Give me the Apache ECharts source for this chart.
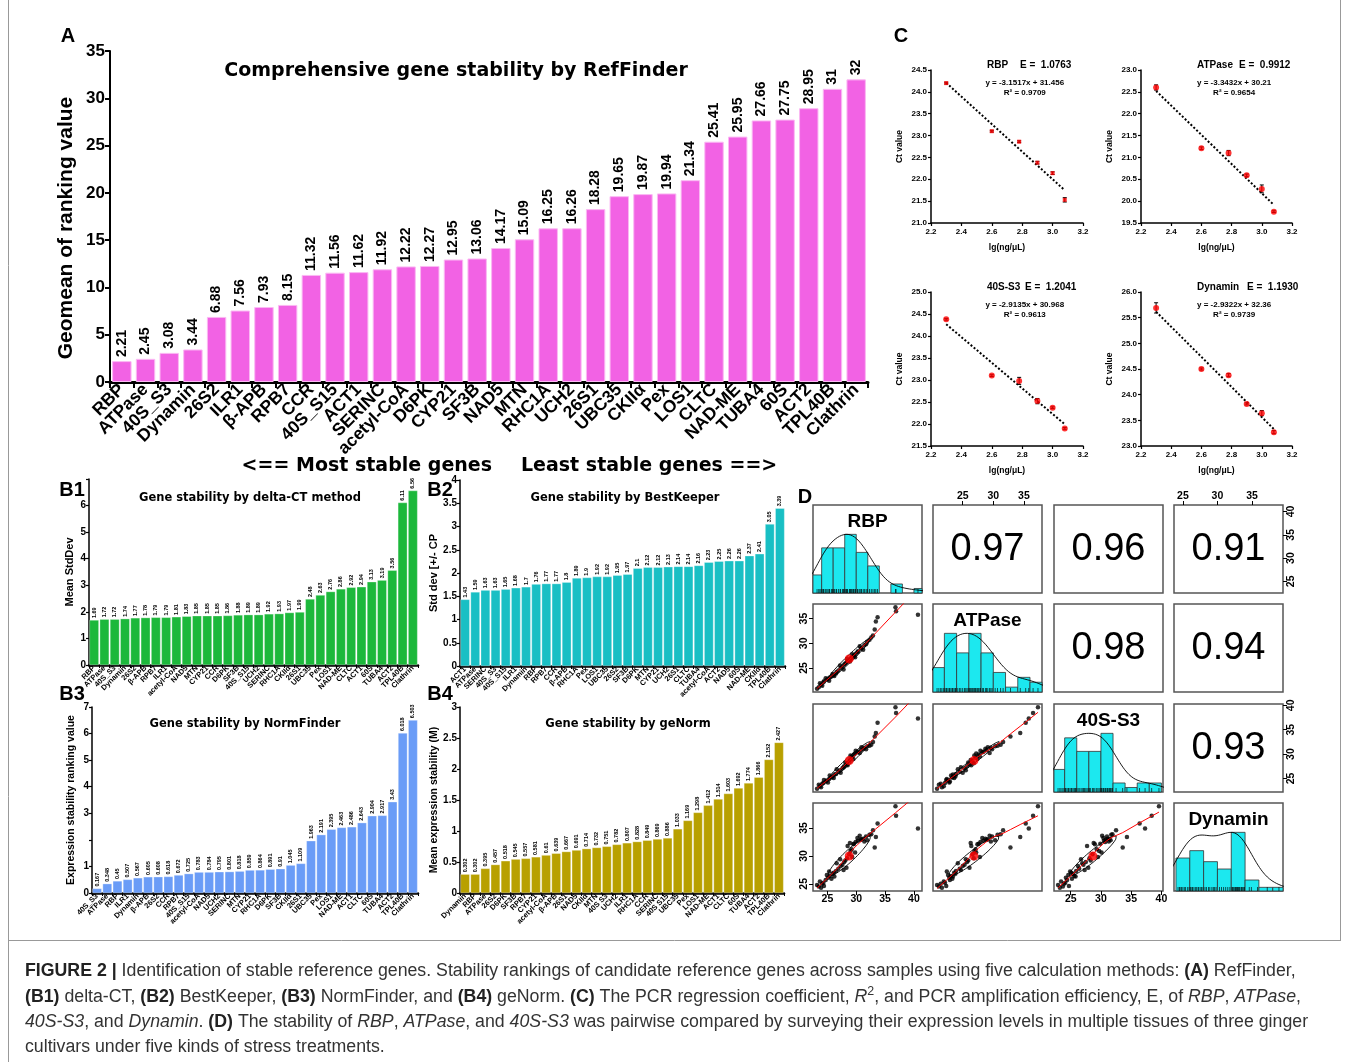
<!DOCTYPE html>
<html><head><meta charset="utf-8">
<script src="https://cdn.jsdelivr.net/npm/echarts@6/dist/echarts.min.js"></script>
<style>html,body{margin:0;padding:0;background:#fff}#c{width:1346px;height:1062px}</style>
</head><body><div id="c"></div><script>
// ---------------- DATA ----------------
const genesA = ['RBP','ATPase','40S_S3','Dynamin','26S2','ILR1','β-APB','RPB7','CCR','40S_S15','ACT1','SERINC','acetyl-CoA','D6PK','CYP21','SF3B','NAD5','MTN','RHC1A','UCH2','26S1','UBC35','CKIIα','Pex','LOS1','CLTC','NAD-ME','TUBA4','60S','ACT2','TPL40B','Clathrin'];
const valuesA = [2.21,2.45,3.08,3.44,6.88,7.56,7.93,8.15,11.32,11.56,11.62,11.92,12.22,12.27,12.95,13.06,14.17,15.09,16.25,16.26,18.28,19.65,19.87,19.94,21.34,25.41,25.95,27.66,27.75,28.95,31,32];

const genesB1 = ['RBP','ATPase','40S_S3','Dynamin','26S2','β-APB','RPB7','ILR1','acetyl-CoA','NAD5','MTN','CYP21','CCR','D6PK','SF3B','40S_S15','UCH2','SERINC','RHC1A','CKIIα','26S1','UBC35','Pex','LOS1','NAD-ME','CLTC','ACT1','60S','TUBA4','ACT2','TPL40B','Clathrin'];
const valuesB1 = [1.69,1.72,1.72,1.74,1.77,1.78,1.79,1.79,1.81,1.83,1.85,1.85,1.85,1.86,1.88,1.89,1.89,1.92,1.93,1.97,1.99,2.48,2.63,2.76,2.86,2.92,2.94,3.13,3.19,3.56,6.11,6.56];

const genesB2 = ['ACT1','ATPase','SERINC','40S_S3','40S_S15','ILR1','Dynamin','RBP','RPB7','CCR','β-APB','RHC1A','Pex','LOS1','UBC35','26S2','SF3B','D6PK','MTN','CYP21','UCH2','26S1','CLTC','TUBA4','acetyl-CoA','ACT2','NAD5','60S','NAD-ME','CKIIα','TPL40B','Clathrin'];
const valuesB2 = [1.43,1.59,1.63,1.63,1.65,1.68,1.7,1.76,1.77,1.77,1.8,1.89,1.9,1.92,1.92,1.95,1.97,2.1,2.12,2.12,2.13,2.14,2.14,2.16,2.23,2.25,2.26,2.26,2.37,2.41,3.05,3.39];

const genesB3 = ['40S_S3','ATPase','RBP','ILR1','Dynamin','β-APB','26S2','CCR','RPB7','40S_S15','acetyl-CoA','NAD5','UCH2','SERINC','MTN','CYP21','RHC1A','D6PK','SF3B','CKIIα','26S1','UBC35','Pex','LOS1','NAD-ME','ACT1','CLTC','60S','TUBA4','ACT2','TPL40B','Clathrin'];
const valuesB3 = [0.167,0.348,0.45,0.507,0.567,0.605,0.608,0.618,0.672,0.725,0.783,0.784,0.795,0.801,0.818,0.859,0.864,0.891,0.91,1.045,1.109,1.963,2.191,2.395,2.463,2.486,2.643,2.904,2.917,3.43,6.018,6.503];

const genesB4 = ['Dynamin','RBP','ATPase','26S2','D6PK','SF3B','RPB7','CYP21','acetyl-CoA','β-APB','26S1','NAD5','CKIIα','MTN','40S S3','UCH2','ILR1','RHC1A','CCR','SERINC','40S S15','UBC35','Pex','LOS1','NAD-ME','ACT1','CLTC','60S','TUBA4','ACT2','TPL40B','Clathrin'];
const valuesB4 = [0.302,0.302,0.395,0.457,0.518,0.545,0.557,0.581,0.61,0.639,0.667,0.691,0.714,0.732,0.751,0.782,0.807,0.828,0.849,0.869,0.886,1.033,1.169,1.298,1.412,1.514,1.603,1.692,1.774,1.866,2.152,2.427];

// Panel C: standard curves
const cX = [2.3, 2.6, 2.78, 2.9, 3.0, 3.08];
const cRBP = [24.2, 23.1, 22.86, 22.38, 22.14, 21.53];
const cATP = [22.6, 21.21, 21.1, 20.59, 20.28, 19.76];
const c40S = [24.38, 23.1, 22.98, 22.52, 22.37, 21.9];
const cDyn = [25.69, 24.5, 24.38, 23.82, 23.64, 23.27];
const cErrRBP = [0.02, 0.02, 0.02, 0.03, 0.03, 0.05];
const cErrATP = [0.06, 0.03, 0.06, 0.03, 0.09, 0.02];
const cErr40S = [0.02, 0.02, 0.08, 0.06, 0.02, 0.02];
const cErrDyn = [0.1, 0.02, 0.03, 0.02, 0.05, 0.03];
const cGenes = ['RBP', 'ATPase', '40S-S3', 'Dynamin'];
const cE = ['1.0763', '0.9912', '1.2041', '1.1930'];
const cSlope = [-3.1517, -3.3432, -2.9135, -2.9322];
const cIntercept = [31.456, 30.21, 30.968, 32.36];
const cR2 = ['0.9709', '0.9654', '0.9613', '0.9739'];
const cYTicks = [[21.0, 24.5], [19.5, 23.0], [21.5, 25.0], [23.0, 26.0]];

// Panel D: Ct values of the four genes per sample
const dRBP = [23.2,23.5,23.7,23.9,24.1,24.3,24.4,24.7,24.9,25.1,25.3,25.4,25.7,25.9,26.1,26.2,26.5,26.6,26.9,27.2,27.3,27.6,27.8,27.9,28.1,28.3,28.4,28.5,28.8,28.9,29.0,29.2,29.3,29.5,29.6,29.8,29.9,30.2,30.3,30.6,30.8,30.9,31.2,31.4,31.7,31.9,32.3,32.6,32.9,33.2,33.4,33.7,36.8,36.9,40.7];
const dATP = [20.8,21.1,21.9,21.6,21.4,22.1,22.3,22.9,22.6,22.8,22.4,23.1,23.3,23.8,23.6,23.4,23.9,24.2,24.5,25.5,25.0,25.3,24.7,25.7,25.9,26.1,26.8,26.4,26.6,26.3,26.9,27.1,27.8,27.4,27.6,27.2,27.9,28.2,28.4,29.4,28.9,29.1,28.7,29.6,29.8,30.3,30.7,31.2,31.6,32.8,34.4,35.3,37.3,36.5,35.8];
const d40S = [22.9,23.7,23.4,23.2,23.9,24.1,24.7,24.4,24.6,24.2,24.9,25.6,25.2,25.4,25.1,25.8,25.9,26.9,26.4,26.7,26.2,27.1,27.3,27.5,28.3,27.9,28.1,27.7,28.6,28.8,29.7,29.3,29.5,29.0,29.9,30.1,30.7,30.4,30.5,30.2,30.8,31.4,31.1,31.3,31.0,31.6,31.7,31.9,32.5,33.6,34.3,36.4,39.6,38.4,37.3];
const dDyn = [24.8,24.5,25.4,24.3,25.0,25.2,24.6,25.7,26.6,26.1,27.2,26.4,25.9,26.8,27.0,26.3,27.3,28.7,27.7,29.4,28.2,28.4,27.5,28.9,29.2,27.9,29.6,31.8,30.3,32.3,30.9,31.2,29.8,32.1,32.2,30.6,32.5,33.2,32.7,33.6,32.9,33.0,33.1,32.6,33.5,32.8,33.8,33.9,34.6,31.5,33.4,35.8,38.9,37.2,34.9];
const dNames = ['RBP', 'ATPase', '40S-S3', 'Dynamin'];
const dCorrLabels = ['0.97', '0.96', '0.91', '0.98', '0.94', '0.93'];
const dTickLabels = [25, 30, 35, 40];

// ---------------- HELPERS ----------------
const FONT = '"Liberation Sans", Arial, sans-serif';
const HEAVY = '"DejaVu Sans", "Liberation Sans", sans-serif';
const grids = [], xAxes = [], yAxes = [], series = [], graphics = [];

function txt(x, y, text, o) {
  o = o || {};
  const el = {type: 'text', x: x, y: y, rotation: o.rot || 0, z: 100, silent: true,
    style: {text: text, fill: o.color || '#000',
      font: (o.italic ? 'italic ' : '') + (o.weight || 'bold') + ' ' + (o.size || 12) + 'px ' + (o.family || FONT),
      textAlign: o.align || 'center', textVerticalAlign: o.va || 'middle'}};
  if (o.rich) el.style.rich = o.rich;
  graphics.push(el);
}
function line(x1, y1, x2, y2, color, w) {
  graphics.push({type: 'line', z: 90, silent: true, shape: {x1, y1, x2, y2}, style: {stroke: color, lineWidth: w}});
}

function barPanel(c) {
  const gi = grids.length;
  grids.push({left: c.left, top: c.top, width: c.width, height: c.height});
  xAxes.push({gridIndex: gi, type: 'category', data: c.cats,
    axisLine: {show: true, lineStyle: {color: '#000', width: c.xLineW}},
    axisTick: {show: true, length: c.xTickLen, lineStyle: {color: '#000', width: c.xTickW}},
    axisLabel: {interval: 0, rotate: 45, fontSize: c.xFs, fontWeight: 'bold', color: '#000', fontFamily: FONT, margin: c.xMargin},
    splitLine: {show: false}});
  const ya = {gridIndex: gi, type: 'value', min: 0, max: c.max, interval: c.interval,
    axisLine: {show: true, lineStyle: {color: '#000', width: c.yLineW}},
    axisTick: {show: true, length: c.yTickLen, lineStyle: {color: '#000', width: c.yTickW}},
    axisLabel: {fontSize: c.yFs, fontWeight: 'bold', color: '#000', fontFamily: FONT, margin: c.yMargin, formatter: c.yFmt},
    splitLine: {show: false}};
  if (c.yName) Object.assign(ya, {name: c.yName, nameLocation: 'middle', nameGap: c.nameGap,
    nameTextStyle: {fontSize: c.nameFs, fontWeight: 'bold', color: '#000', fontFamily: FONT}});
  yAxes.push(ya);
  series.push({type: 'bar', xAxisIndex: gi, yAxisIndex: gi, data: c.vals, barCategoryGap: c.gap,
    itemStyle: {color: c.color, borderColor: c.border, borderWidth: c.borderW},
    label: {show: true, position: 'top', rotate: 90, align: 'left', verticalAlign: 'middle', distance: c.lblDist,
      fontSize: c.lblFs, fontWeight: 'bold', color: '#000', fontFamily: FONT, formatter: p => String(p.value)}});
}

// ---------------- PANEL A ----------------
barPanel({left: 110, top: 51, width: 758, height: 331, cats: genesA, vals: valuesA, max: 35, interval: 5,
  xLineW: 3, xTickLen: 6, xTickW: 2, xFs: 17.5, xMargin: 5, yLineW: 2, yTickLen: 5, yTickW: 2, yFs: 17, yMargin: 5,
  yName: null, gap: '18%', color: '#f262e4', border: '#fbb9f3', borderW: 1,
  lblDist: 4, lblFs: 14});
txt(66, 228, 'Geomean of ranking value', {size: 21, rot: Math.PI / 2});

// ---------------- PANELS B ----------------
const bCommon = {xLineW: 2.5, xTickLen: 3, xTickW: 1, xFs: 7.5, xMargin: 2, yLineW: 1.5, yTickLen: 3, yTickW: 1.2, yFs: 10, yMargin: 3,
  nameFs: 11, gap: '10%', border: '#ffffff', borderW: 0.3, lblDist: 2, lblFs: 5.5};
barPanel(Object.assign({}, bCommon, {left: 89, top: 479, width: 329, height: 186, cats: genesB1, vals: valuesB1, max: 7, interval: 1,
  yName: 'Mean StdDev', nameGap: 14, color: '#1cb83b', yFmt: v => v === 7 ? '' : String(v)}));
barPanel(Object.assign({}, bCommon, {left: 460, top: 480, width: 325, height: 186, cats: genesB2, vals: valuesB2, max: 4, interval: 0.5,
  yName: 'Std dev [+/- CP', nameGap: 19, color: '#19bfc4', yFmt: v => String(v)}));
barPanel(Object.assign({}, bCommon, {left: 92, top: 707, width: 326, height: 186, cats: genesB3, vals: valuesB3, max: 7, interval: 1,
  yName: 'Expression stability ranking value', nameGap: 15, nameFs: 10.5, color: '#6a9cf7', yFmt: v => v === 2 ? '' : String(v)}));
barPanel(Object.assign({}, bCommon, {left: 460, top: 707, width: 324, height: 186, cats: genesB4, vals: valuesB4, max: 3, interval: 0.5,
  yName: 'Mean expression stability (M)', nameGap: 19, nameFs: 10.5, color: '#b8a000', yFmt: v => String(v)}));

// ---------------- PANELS C ----------------
const cYs = [cRBP, cATP, c40S, cDyn];
const cErrs = [cErrRBP, cErrATP, cErr40S, cErrDyn];
const cBoxes = [[931, 70, 152, 153], [1141, 70, 151, 153], [931, 292, 152, 154], [1141, 292, 151, 154]];
cBoxes.forEach((b, k) => {
  const gi = grids.length;
  grids.push({left: b[0], top: b[1], width: b[2], height: b[3]});
  const axBase = {axisLine: {show: true, lineStyle: {color: '#000', width: 1.5}},
    axisTick: {show: true, length: 3, lineStyle: {color: '#000', width: 1.2}}, splitLine: {show: false},
    nameLocation: 'middle', nameTextStyle: {fontSize: 8.5, fontWeight: 'bold', color: '#000', fontFamily: FONT}};
  xAxes.push(Object.assign({gridIndex: gi, type: 'value', min: 2.2, max: 3.2, interval: 0.2, name: 'lg(ng/μL)', nameGap: 20,
    axisLabel: {fontSize: 8, fontWeight: 'bold', color: '#000', fontFamily: FONT, margin: 5, formatter: v => v.toFixed(1)}}, axBase));
  yAxes.push(Object.assign({gridIndex: gi, type: 'value', min: cYTicks[k][0], max: cYTicks[k][1], interval: 0.5, name: 'Ct value', nameGap: 27,
    axisLabel: {fontSize: 8, fontWeight: 'bold', color: '#000', fontFamily: FONT, margin: 4, formatter: v => v.toFixed(1)}}, axBase));
  const ys = cYs[k], es = cErrs[k];
  const n = cX.length;
  series.push({type: 'line', xAxisIndex: gi, yAxisIndex: gi, symbol: 'none', silent: true, z: 2,
    data: [[cX[0], cSlope[k] * cX[0] + cIntercept[k]], [cX[n - 1], cSlope[k] * cX[n - 1] + cIntercept[k]]],
    lineStyle: {color: '#000', width: 2, type: [2, 2]}});
  series.push({type: 'custom', xAxisIndex: gi, yAxisIndex: gi, z: 3, silent: true,
    data: cX.map((x, i) => [x, ys[i], es[i]]),
    renderItem: (params, api) => {
      const x = api.value(0), y = api.value(1), e = api.value(2);
      const p1 = api.coord([x, y + e]), p2 = api.coord([x, y - e]);
      return {type: 'group', children: [
        {type: 'line', shape: {x1: p1[0], y1: p1[1], x2: p2[0], y2: p2[1]}, style: {stroke: '#000', lineWidth: 1}},
        {type: 'line', shape: {x1: p1[0] - 2, y1: p1[1], x2: p1[0] + 2, y2: p1[1]}, style: {stroke: '#000', lineWidth: 1}},
        {type: 'line', shape: {x1: p2[0] - 2, y1: p2[1], x2: p2[0] + 2, y2: p2[1]}, style: {stroke: '#000', lineWidth: 1}}]};
    }});
  series.push({type: 'scatter', xAxisIndex: gi, yAxisIndex: gi, z: 4, silent: true,
    data: cX.map((x, i) => [x, ys[i]]), symbol: k === 0 ? 'rect' : 'circle', symbolSize: k === 0 ? 4 : 6,
    itemStyle: {color: '#f00'}});
  const cx = b[0] + b[2] * 0.63;
  txt(b[0] + 56, b[1] - 5, cGenes[k], {size: 10, align: 'left'});
  txt(b[0] + 56 + (k === 0 ? 33 : k === 1 ? 42 : k === 2 ? 38 : 50), b[1] - 5, 'E =  ' + cE[k], {size: 10, align: 'left'});
  txt(cx - 2, b[1] + 13, 'y = ' + cSlope[k] + 'x + ' + cIntercept[k], {size: 8});
  txt(cx - 2, b[1] + 23, 'R² = ' + cR2[k], {size: 8});
});

// ---------------- PANEL D ----------------
function mean(a) { return a.reduce((s, v) => s + v, 0) / a.length; }
function sd(a) { const m = mean(a); return Math.sqrt(a.reduce((s, v) => s + (v - m) * (v - m), 0) / (a.length - 1)); }
function corr(a, b) { const ma = mean(a), mb = mean(b); let sab = 0, saa = 0, sbb = 0;
  for (let i = 0; i < a.length; i++) { sab += (a[i] - ma) * (b[i] - mb); saa += (a[i] - ma) ** 2; sbb += (b[i] - mb) ** 2; }
  return sab / Math.sqrt(saa * sbb); }
function quant(a, p) { const s = [...a].sort((x, y) => x - y); const h = (s.length - 1) * p; const lo = Math.floor(h);
  return s[lo] + (h - lo) * (s[Math.min(lo + 1, s.length - 1)] - s[lo]); }
function median(a) { return quant(a, 0.5); }
function density(a) {
  const n = a.length; const iqr = quant(a, 0.75) - quant(a, 0.25);
  const bw = 1.2 * 1.06 * Math.min(sd(a), iqr / 1.34) * Math.pow(n, -0.2);
  const lo = Math.min(...a) - 3 * bw, hi = Math.max(...a) + 3 * bw; const pts = []; let mx = 0;
  for (let k = 0; k <= 240; k++) { const x = lo + (hi - lo) * k / 240; let s = 0;
    for (const v of a) { const u = (x - v) / bw; s += Math.exp(-0.5 * u * u); }
    pts.push([x, s]); if (s > mx) mx = s; }
  return pts.map(p => [p[0], p[1] / mx]);
}
function hist(a) {
  const lo = Math.floor(Math.min(...a) / 2) * 2, hi = Math.ceil(Math.max(...a) / 2) * 2; const bins = [];
  for (let b = lo; b < hi; b += 2) bins.push([b, b + 2, 0]);
  for (const v of a) { let k = Math.ceil((v - lo) / 2) - 1; if (k < 0) k = 0; bins[k][2]++; }
  const mx = Math.max(...bins.map(b => b[2]));
  return bins.filter(b => b[2] > 0).map(b => [b[0], b[1], b[2] / mx]);
}
function lowess(x, y, f, iter) {
  const n = x.length; const idx = [...Array(n).keys()].sort((a, b) => x[a] - x[b]);
  const xs = idx.map(i => x[i]), ys = idx.map(i => y[i]); const r = Math.ceil(f * n);
  let rw = new Array(n).fill(1); const fit = new Array(n);
  for (let it = 0; it <= iter; it++) {
    for (let i = 0; i < n; i++) {
      const d = xs.map(v => Math.abs(v - xs[i])); const h = [...d].sort((a, b) => a - b)[r - 1];
      let sw = 0, sx = 0, sy = 0, sxx = 0, sxy = 0;
      for (let j = 0; j < n; j++) { const u = h > 0 ? d[j] / h : 0; let w = u < 1 ? Math.pow(1 - u * u * u, 3) : 0; w *= rw[j];
        sw += w; sx += w * xs[j]; sy += w * ys[j]; sxx += w * xs[j] * xs[j]; sxy += w * xs[j] * ys[j]; }
      const mx = sx / sw, my = sy / sw, vx = sxx / sw - mx * mx;
      const b = vx > 1e-10 ? (sxy / sw - mx * my) / vx : 0; fit[i] = my + b * (xs[i] - mx);
    }
    if (it < iter) { const res = ys.map((v, i) => v - fit[i]); const s = median(res.map(Math.abs)) || 1e-6;
      rw = res.map(e => { const u = e / (6 * s); return Math.abs(u) < 1 ? (1 - u * u) ** 2 : 0; }); }
  }
  return xs.map((v, i) => [v, fit[i]]);
}
function ellipse(a, b) {
  const xm = mean(a), ym = mean(b), xs = sd(a), ys = sd(b), r = corr(a, b); const th = 1 / Math.sqrt(2);
  const s1 = Math.sqrt(1 + r) * th, s2 = Math.sqrt(1 - r) * th; const pts = [];
  for (let k = 0; k <= 60; k++) { const ang = k * 2 * Math.PI / 60; const c = Math.cos(ang), s = Math.sin(ang);
    pts.push([(c * s1 - s * s2) * xs + xm, (c * s1 + s * s2) * ys + ym]); }
  return pts;
}
function range4(a) { const mn = Math.min(...a), mx = Math.max(...a), d = (mx - mn) * 0.04; return [mn - d, mx + d]; }

const dVars = [dRBP, dATP, d40S, dDyn];
const dRanges = dVars.map(range4);
const dColX = [813, 933, 1054, 1174], dRowY = [505, 604, 704, 803], dW = 109, dH = 88;
let corrK = 0;
for (let r = 0; r < 4; r++) {
  for (let c = 0; c < 4; c++) {
    const gi = grids.length;
    grids.push({left: dColX[c], top: dRowY[r], width: dW, height: dH, show: true, borderColor: '#555', borderWidth: 1.5, backgroundColor: 'transparent'});
    const xr = dRanges[c];
    const yr = r === c ? [0, 1.5] : dRanges[r];
    const showTop = r === 0 && c % 2 === 1, showBottom = r === 3 && c % 2 === 0;
    const showRight = c === 3 && r % 2 === 0, showLeft = c === 0 && r % 2 === 1;
    const tx = dTickLabels.filter(v => v > xr[0] && v < xr[1]);
    const ty = dTickLabels.filter(v => v > yr[0] && v < yr[1]);
    const lbl = {fontSize: 10.5, fontWeight: 'bold', color: '#000', fontFamily: FONT, margin: 3};
    xAxes.push({gridIndex: gi, type: 'value', min: xr[0], max: xr[1], show: showTop || showBottom, position: showTop ? 'top' : 'bottom',
      axisLine: {show: false}, splitLine: {show: false},
      axisTick: {show: true, length: 4, customValues: tx, lineStyle: {color: '#000'}},
      axisLabel: Object.assign({customValues: tx}, lbl)});
    yAxes.push({gridIndex: gi, type: 'value', min: yr[0], max: yr[1], show: showRight || showLeft, position: showRight ? 'right' : 'left',
      axisLine: {show: false}, splitLine: {show: false},
      axisTick: {show: true, length: 4, customValues: ty, lineStyle: {color: '#000'}},
      axisLabel: Object.assign({customValues: ty, rotate: 90}, lbl)});
    const cxm = dColX[c] + dW / 2, cym = dRowY[r] + dH / 2;
    if (r === c) {
      const a = dVars[r];
      series.push({type: 'custom', xAxisIndex: gi, yAxisIndex: gi, silent: true, z: 2, data: hist(a),
        renderItem: (params, api) => {
          const cs = params.coordSys; const p0 = api.coord([api.value(0), 0]); const p1 = api.coord([api.value(1), api.value(2)]);
          const x0 = Math.max(p0[0], cs.x), x1 = Math.min(p1[0], cs.x + cs.width);
          if (x1 <= x0) return {type: 'group', children: []};
          return {type: 'rect', shape: {x: x0, y: p1[1], width: x1 - x0, height: p0[1] - p1[1]}, style: {fill: '#1ce8ef', stroke: '#333', lineWidth: 0.8}};
        }});
      series.push({type: 'line', xAxisIndex: gi, yAxisIndex: gi, silent: true, z: 3, symbol: 'none', data: density(a), clip: true,
        lineStyle: {color: '#000', width: 0.9}});
      series.push({type: 'scatter', xAxisIndex: gi, yAxisIndex: gi, silent: true, z: 4, data: a.map(v => [v, 0]),
        symbol: 'rect', symbolSize: [0.8, 4], symbolOffset: [0, -2], itemStyle: {color: '#000'}});
      txt(cxm, dRowY[r] + 17, dNames[r], {size: 19});
    } else if (r > c) {
      const xa = dVars[c], ya = dVars[r];
      series.push({type: 'line', xAxisIndex: gi, yAxisIndex: gi, silent: true, z: 2, symbol: 'none', data: ellipse(xa, ya), clip: true,
        lineStyle: {color: '#000', width: 0.9}});
      series.push({type: 'scatter', xAxisIndex: gi, yAxisIndex: gi, silent: true, z: 3, data: xa.map((v, i) => [v, ya[i]]),
        symbolSize: 4.5, itemStyle: {color: '#000'}});
      series.push({type: 'line', xAxisIndex: gi, yAxisIndex: gi, silent: true, z: 4, symbol: 'none', data: lowess(xa, ya, 2 / 3, 3), clip: true,
        lineStyle: {color: '#f00', width: 1}});
      series.push({type: 'scatter', xAxisIndex: gi, yAxisIndex: gi, silent: true, z: 5, data: [[mean(xa), mean(ya)]],
        symbolSize: 9, itemStyle: {color: '#f00'}});
    } else {
      txt(cxm, cym + 1, dCorrLabels[corrK++], {size: 38, weight: 'normal'});
    }
  }
}

// ---------------- TEXTS ----------------
txt(68, 36, 'A', {size: 20});
txt(456, 71, 'Comprehensive gene stability by RefFinder', {size: 19, family: HEAVY});
txt(492, 466, '<== Most stable genes', {size: 19, family: HEAVY, align: 'right'});
txt(521, 466, 'Least stable genes ==>', {size: 19, family: HEAVY, align: 'left'});
txt(72, 490, 'B1', {size: 20});
txt(440, 490, 'B2', {size: 20});
txt(72, 694, 'B3', {size: 20});
txt(440, 694, 'B4', {size: 20});
txt(250, 498, 'Gene stability by delta-CT method', {size: 11.5, family: HEAVY});
txt(625, 498, 'Gene stability by BestKeeper', {size: 11.5, family: HEAVY});
txt(245, 724, 'Gene stability by NormFinder', {size: 11.5, family: HEAVY});
txt(628, 724, 'Gene stability by geNorm', {size: 11.5, family: HEAVY});
txt(901, 36, 'C', {size: 20});
txt(805, 497, 'D', {size: 20});

// frame
line(8.5, 0, 8.5, 1062, '#999', 1);
line(1340.5, 0, 1340.5, 940, '#999', 1);
line(8, 940.5, 1341, 940.5, '#999', 1);

// caption
const capLines = [
  '{b|FIGURE 2 |} Identification of stable reference genes. Stability rankings of candidate reference genes across samples using five calculation methods: {b|(A)} RefFinder,',
  '{b|(B1)} delta-CT, {b|(B2)} BestKeeper, {b|(B3)} NormFinder, and {b|(B4)} geNorm. {b|(C)} The PCR regression coefficient, {i|R}{sup|2}, and PCR amplification efficiency, E, of {i|RBP}, {i|ATPase},',
  '{i|40S-S3}, and {i|Dynamin}. {b|(D)} The stability of {i|RBP}, {i|ATPase}, and {i|40S-S3} was pairwise compared by surveying their expression levels in multiple tissues of three ginger',
  'cultivars under five kinds of stress treatments.'
];
const capY = [971, 997, 1022, 1047];
(function () {
  const ctx = document.createElement('canvas').getContext('2d');
  const fam = 'Liberation Sans';
  const plain = capLines[0].replace(/\{\w+\|([^}]*)\}/g, '$1');
  ctx.font = '20px "' + fam + '"'; const w1 = ctx.measureText(plain).width;
  const fs = Math.min(19, 20 * 1270 / w1);
  const ff = '"' + fam + '", Arial, sans-serif';
  const rich = {
    b: {fontWeight: 'bold', fontSize: fs, fontFamily: ff, fill: '#222'},
    i: {fontStyle: 'italic', fontSize: fs, fontFamily: ff, fill: '#333'},
    sup: {fontSize: fs * 0.7, fontFamily: ff, fill: '#333', verticalAlign: 'top', lineHeight: fs * 1.3}
  };
  capLines.forEach((s, i) => txt(25, capY[i], s, {size: fs.toFixed(2), weight: 'normal', family: ff, color: '#333', align: 'left', rich: rich}));
})();

const chart = echarts.init(document.getElementById('c'), null, {renderer: 'canvas'});
chart.setOption({animation: false, textStyle: {fontFamily: FONT}, grid: grids, xAxis: xAxes, yAxis: yAxes, series: series, graphic: {elements: graphics}});
</script></body></html>
